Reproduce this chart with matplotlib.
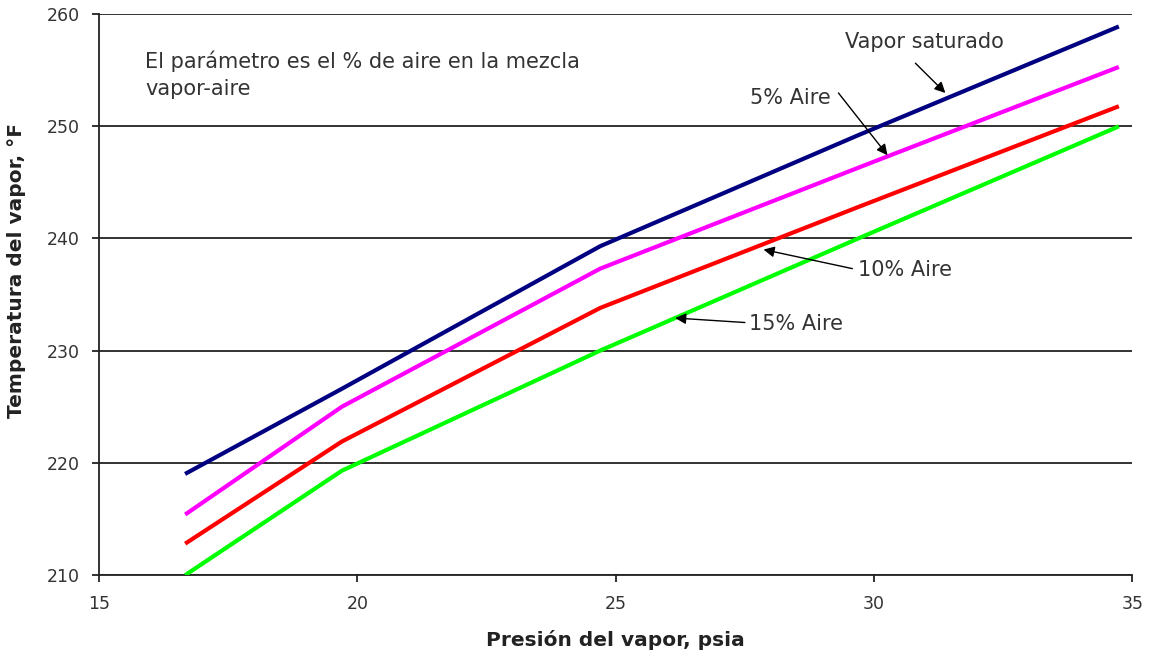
import matplotlib
matplotlib.use("Agg")
import matplotlib.pyplot as plt

# Presion del vapor (psia)
presion = [16.7, 19.7, 24.7, 29.7, 34.7]

# Temperatura (F) para cada % de aire
vapor_saturado = [219.1, 226.6, 239.3, 249.2, 258.8]
aire_5 = [215.5, 225.0, 237.3, 246.3, 255.2]
aire_10 = [212.9, 221.9, 233.8, 242.8, 251.7]
aire_15 = [210.1, 219.3, 230.0, 240.0, 249.9]

x_ticks = [15, 20, 25, 30, 35]
y_ticks = [210, 220, 230, 240, 250, 260]

plt.rcParams['font.family'] = ['DejaVu Sans']

fig = plt.figure(figsize=(11.52, 6.58), dpi=100)
ax = fig.add_axes([0.086, 0.126, 0.897, 0.853])

# grid lines
for yv in y_ticks:
    ax.axhline(yv, color='#222222', lw=1.3, zorder=1)

ax.plot(presion, vapor_saturado, color='#000080', lw=3, zorder=3)
ax.plot(presion, aire_5, color='#ff00ff', lw=3, zorder=3)
ax.plot(presion, aire_10, color='#ff0000', lw=3, zorder=3)
ax.plot(presion, aire_15, color='#00ff00', lw=3, zorder=3)

ax.set_xlim(15, 35)
ax.set_ylim(210, 260)
ax.set_xticks(x_ticks)
ax.set_yticks(y_ticks)
ax.tick_params(direction='out', length=5, width=1.3, labelsize=12.5,
               labelcolor='#333333', color='#222222', pad=9)
for s in ['top', 'right']:
    ax.spines[s].set_visible(False)
for s in ['left', 'bottom']:
    ax.spines[s].set_linewidth(1.3)
    ax.spines[s].set_color('#222222')

ax.set_xlabel('Presión del vapor, psia', fontsize=14.5, fontweight='bold',
              color='#222222')
ax.set_ylabel('Temperatura del vapor, °F', fontsize=14.5, fontweight='bold',
              color='#222222')
ax.xaxis.set_label_coords(0.4995, -0.097)
ax.yaxis.set_label_coords(-0.0707, 0.542)

ax.text(15.89, 254.6, 'El parámetro es el % de aire en la mezcla\nvapor-aire',
        fontsize=15, color='#333333', va='center', linespacing=1.45)

arrow = dict(arrowstyle='-|>', color='black', lw=1, mutation_scale=16,
             shrinkA=0, shrinkB=0)
txt = dict(fontsize=15, color='#333333', va='center', ha='left')

ax.annotate('', xy=(31.38, 252.95), xytext=(30.8, 255.6), arrowprops=arrow)
ax.text(29.44, 257.5, 'Vapor saturado', **txt)

ax.annotate('', xy=(30.26, 247.4), xytext=(29.31, 252.95), arrowprops=arrow)
ax.text(27.6, 252.5, '5% Aire', **txt)

ax.annotate('', xy=(27.86, 239.0), xytext=(29.58, 237.3), arrowprops=arrow)
ax.text(29.69, 237.2, '10% Aire', **txt)

ax.annotate('', xy=(26.15, 232.9), xytext=(27.5, 232.5), arrowprops=arrow)
ax.text(27.57, 232.35, '15% Aire', **txt)

fig.savefig('out.png', dpi=100)
